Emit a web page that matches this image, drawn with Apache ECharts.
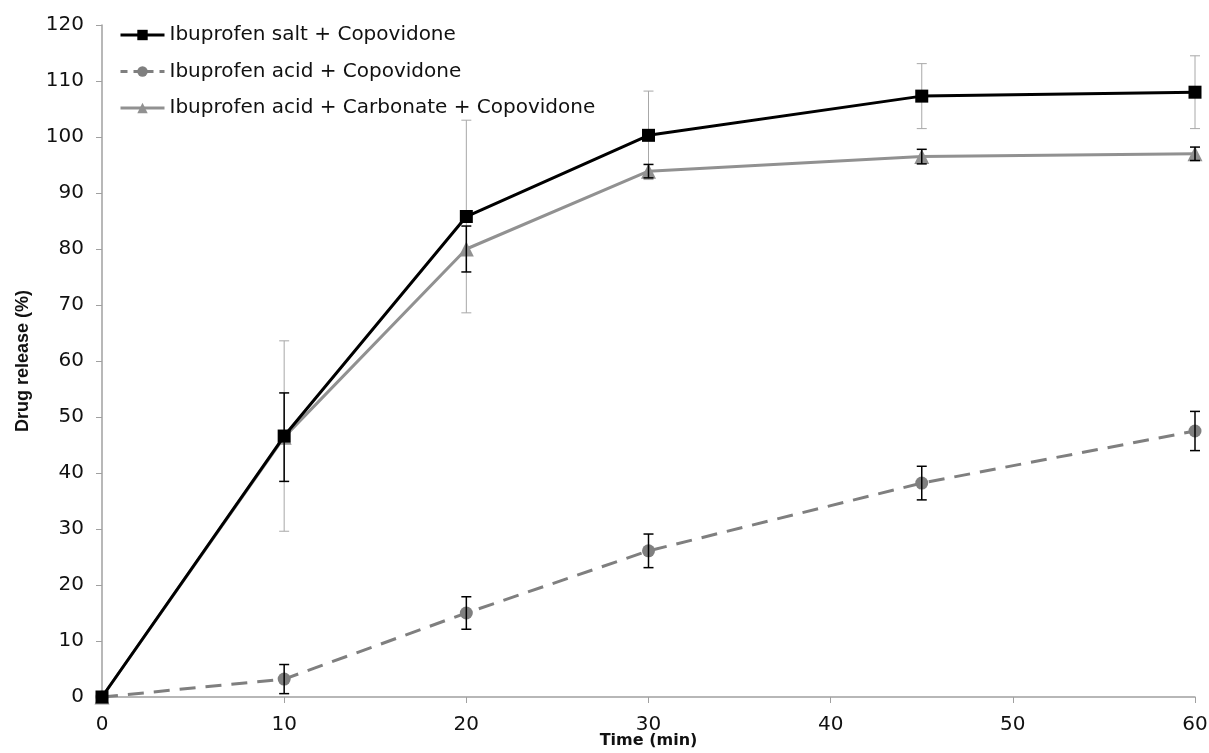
<!DOCTYPE html>
<html>
<head>
<meta charset="utf-8">
<title>Drug release</title>
<script src="https://cdn.jsdelivr.net/npm/echarts@6/dist/echarts.min.js"></script>
<style>
  html, body { margin: 0; padding: 0; background: #fff; }
  #chart { width: 1209px; height: 753px; }
</style>
</head>
<body>
<div id="chart"></div>
<script>
// Sampling times (min)
const times = [0, 10, 20, 30, 45, 60];

// Mean release (%) per formulation
const saltMean = [0, 46.6, 85.8, 100.3, 107.3, 108.0];
const acidMean = [0, 3.2, 15.0, 26.1, 38.2, 47.5];
const carbMean = [0, 46.4, 80.0, 93.9, 96.5, 97.0];

// Standard deviations (%)
const saltSd = [0, 17.0, 17.2, 7.9, 5.8, 6.5];
const acidSd = [0, 2.6, 2.9, 3.0, 3.0, 3.5];
const carbSd = [0, 7.9, 4.1, 1.2, 1.3, 1.2];

const seriesNames = [
  'Ibuprofen salt + Copovidone',
  'Ibuprofen acid + Copovidone',
  'Ibuprofen acid + Carbonate + Copovidone'
];

const yTicks = { min: 0, max: 120, step: 10 };
const xTicks = { min: 0, max: 60, step: 10 };

const FONT = '"DejaVu Sans", Arial, sans-serif';
const TITLE_FONT = '"Liberation Sans", Arial, sans-serif';

const saltColor = '#000000';
const acidColor = '#7f7f7f';
const carbColor = '#919191';

function pairs(mean) {
  return times.map((t, i) => [t, mean[i]]);
}

function errRows(mean, sd) {
  return times.map((t, i) => [t, mean[i] - sd[i], mean[i] + sd[i]]).filter((r, i) => sd[i] > 0);
}

// Vertical whisker with short caps at mean ± SD
function errorBarSeries(mean, sd, color, width, z) {
  return {
    type: 'custom',
    silent: true,
    z: z,
    data: errRows(mean, sd),
    encode: { x: 0, y: [1, 2] },
    renderItem: function (params, api) {
      const x = api.value(0);
      const lo = api.coord([x, api.value(1)]);
      const hi = api.coord([x, api.value(2)]);
      const cap = 5;
      const style = { stroke: color, lineWidth: width, fill: null };
      return {
        type: 'group',
        children: [
          { type: 'line', shape: { x1: lo[0], y1: lo[1], x2: hi[0], y2: hi[1] }, style: style },
          { type: 'line', shape: { x1: lo[0] - cap, y1: lo[1], x2: lo[0] + cap, y2: lo[1] }, style: style },
          { type: 'line', shape: { x1: hi[0] - cap, y1: hi[1], x2: hi[0] + cap, y2: hi[1] }, style: style }
        ]
      };
    }
  };
}

const chart = echarts.init(document.getElementById('chart'), null, { renderer: 'canvas' });

chart.setOption({
  animation: false,
  backgroundColor: '#ffffff',
  grid: { left: 102, right: 14, top: 25, bottom: 56, containLabel: false, outerBoundsMode: 'none' },
  legend: {
    orient: 'vertical',
    left: 114,
    top: 20,
    itemWidth: 44,
    itemHeight: 13,
    itemGap: 16.5,
    textStyle: { fontFamily: FONT, fontSize: 20, color: '#111' },
    data: [
      { name: seriesNames[0], lineStyle: { width: 3, color: saltColor } },
      { name: seriesNames[1], lineStyle: { width: 3, color: acidColor, type: [7, 6] } },
      { name: seriesNames[2], lineStyle: { width: 3, color: carbColor } }
    ]
  },
  xAxis: {
    type: 'value',
    min: xTicks.min,
    max: xTicks.max,
    interval: xTicks.step,
    name: 'Time (min)',
    nameLocation: 'middle',
    nameGap: 36,
    nameMoveOverlap: false,
    nameTextStyle: { fontFamily: FONT, fontSize: 16, fontWeight: 'bold', color: '#111' },
    axisLine: { lineStyle: { color: '#a0a0a0', width: 1.5 } },
    axisTick: { show: true, inside: false, length: 6, lineStyle: { color: '#a0a0a0' } },
    axisLabel: { fontFamily: FONT, fontSize: 20, color: '#111', margin: 18 },
    splitLine: { show: false }
  },
  yAxis: {
    type: 'value',
    min: yTicks.min,
    max: yTicks.max,
    interval: yTicks.step,
    name: 'Drug release (%)',
    nameLocation: 'middle',
    nameGap: 70,
    nameMoveOverlap: false,
    nameRotate: 90,
    nameTextStyle: { fontFamily: TITLE_FONT, fontSize: 18, fontWeight: 'bold', color: '#111' },
    axisLine: { show: true, lineStyle: { color: '#a0a0a0', width: 1.5 } },
    axisTick: { show: true, inside: false, length: 6, lineStyle: { color: '#a0a0a0' } },
    axisLabel: { fontFamily: FONT, fontSize: 20, color: '#111', margin: 18 },
    splitLine: { show: false }
  },
  series: [
    errorBarSeries(saltMean, saltSd, '#a8a8a8', 1, 1),
    {
      name: seriesNames[0],
      type: 'line',
      z: 3,
      data: pairs(saltMean),
      symbol: 'rect',
      symbolSize: 13,
      lineStyle: { color: saltColor, width: 3 },
      itemStyle: { color: saltColor }
    },
    {
      name: seriesNames[1],
      type: 'line',
      z: 2,
      data: pairs(acidMean),
      symbol: 'circle',
      symbolSize: 13,
      lineStyle: { color: acidColor, width: 3, type: [16, 10] },
      itemStyle: { color: acidColor }
    },
    {
      name: seriesNames[2],
      type: 'line',
      z: 2,
      data: pairs(carbMean),
      symbol: 'triangle',
      symbolSize: 15,
      lineStyle: { color: carbColor, width: 3 },
      itemStyle: { color: carbColor }
    },
    errorBarSeries(acidMean, acidSd, '#000000', 1.5, 4),
    errorBarSeries(carbMean, carbSd, '#000000', 1.5, 4)
  ]
});
</script>
</body>
</html>
